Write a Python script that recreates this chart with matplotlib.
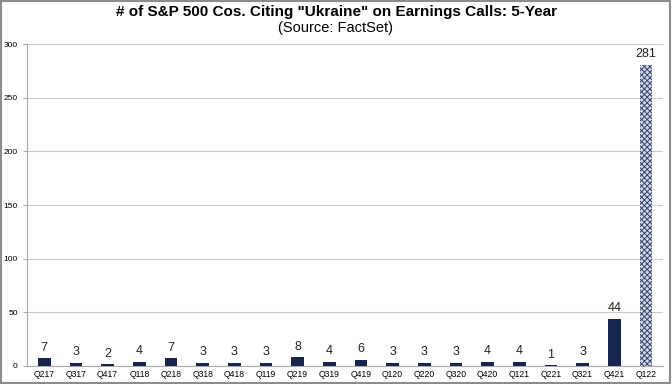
import matplotlib
matplotlib.use("Agg")
import matplotlib.pyplot as plt
import matplotlib.patches as mpatches
import numpy as np

quarters = ["Q217", "Q317", "Q417", "Q118", "Q218", "Q318", "Q418", "Q119", "Q219", "Q319",
            "Q419", "Q120", "Q220", "Q320", "Q420", "Q121", "Q221", "Q321", "Q421", "Q122"]
counts = [7, 3, 2, 4, 7, 3, 3, 3, 8, 4, 6, 3, 3, 3, 4, 4, 1, 3, 44, 281]
yticks = [0, 50, 100, 150, 200, 250, 300]

plt.rcParams["font.family"] = ["Liberation Sans", "DejaVu Sans"]
plt.rcParams["hatch.linewidth"] = 0.7

fig = plt.figure(figsize=(6.72, 3.84), dpi=100)
ax = fig.add_axes([0.040, 0.047, 0.947, 0.838])

x = np.arange(len(quarters))
navy = "#16264f"
ax.bar(x[:-1], counts[:-1], width=0.4, color=navy, zorder=3)
ax.bar(x[-1:], counts[-1:], width=0.4, color="#d4d8e4", edgecolor="#34446e",
       hatch="xxxxxx", linewidth=0, zorder=3)

for xi, v in zip(x, counts):
    ax.text(xi, v + 4, str(v), ha="center", va="bottom", fontsize=9, color="#222222")

ax.set_ylim(0, 300)
ax.set_xlim(-0.55, len(quarters) - 0.45)
ax.set_yticks(yticks)
ax.set_xticks(x)
ax.set_xticklabels(quarters, fontsize=6.2)
ax.tick_params(axis="y", labelsize=6, length=3, color="#aaaaaa")
ax.tick_params(axis="x", length=0, pad=3)
ax.yaxis.grid(True, color="#c8c8c8", linewidth=0.8, zorder=0)
for s in ["top", "right"]:
    ax.spines[s].set_visible(False)
ax.spines["left"].set_color("#aaaaaa")
ax.spines["bottom"].set_color("#aaaaaa")

fig.text(0.5, 0.969, '# of S&P 500 Cos. Citing "Ukraine" on Earnings Calls: 5-Year',
         ha="center", va="center", fontsize=11, fontweight="bold")
fig.text(0.5, 0.926, "(Source: FactSet)", ha="center", va="center", fontsize=10.5)

fig.patches.append(mpatches.Rectangle((0.002, 0.003), 0.995, 0.994, transform=fig.transFigure,
                                      fill=False, edgecolor="#8c8c8c", linewidth=1.5))

fig.savefig("out.png", dpi=100)
